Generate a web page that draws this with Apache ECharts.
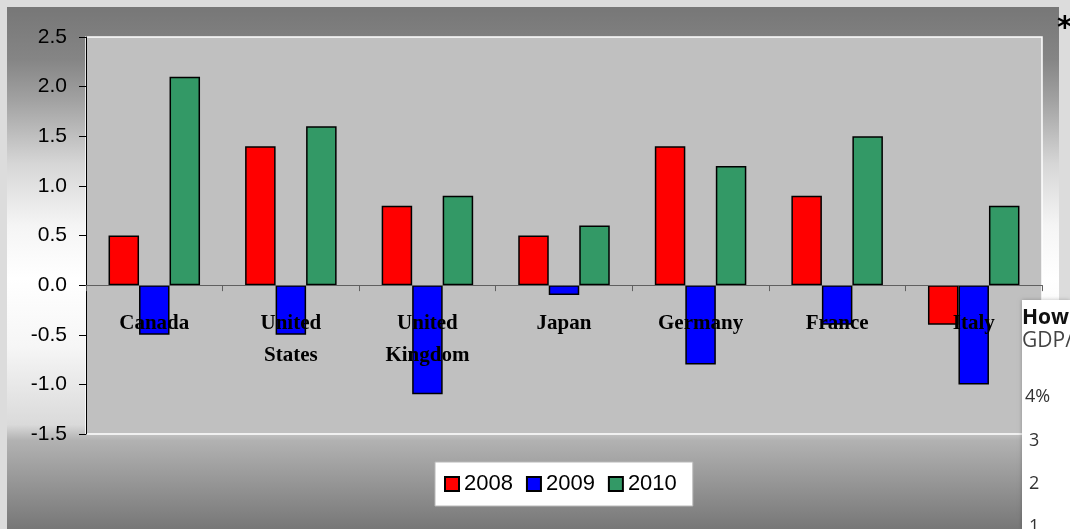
<!DOCTYPE html>
<html>
<head>
<meta charset="utf-8">
<script src="https://cdn.jsdelivr.net/npm/echarts@6/dist/echarts.min.js"></script>
<style>
  html, body { margin: 0; padding: 0; background: #dcdcdc; }
  #main { width: 1070px; height: 529px; }
</style>
</head>
<body>
<div id="main"></div>
<script>
// data
var countries = ['Canada', 'United\nStates', 'United\nKingdom', 'Japan', 'Germany', 'France', 'Italy']
var years = ['2008', '2009', '2010']
var v2008 = [0.5, 1.4, 0.8, 0.5, 1.4, 0.9, -0.4]
var v2009 = [-0.5, -0.5, -1.1, -0.1, -0.8, -0.4, -1.0]
var v2010 = [2.1, 1.6, 0.9, 0.6, 1.2, 1.5, 0.8]
var yMin = -1.5
var yMax = 2.5
var yStep = 0.5

var colors = ['#ff0000', '#0000ff', '#339966']

var myChart = echarts.init(document.getElementById('main'))

function bar(name, data) {
  return {
    name: name,
    type: 'bar',
    data: data,
    barGap: '0%',
    barCategoryGap: '33%',
    itemStyle: { borderColor: '#000', borderWidth: 1.5 }
  }
}

var option = {
  backgroundColor: '#dcdcdc',
  color: colors,
  animation: false,
  graphic: [
    // gradient frame behind the chart
    {
      type: 'rect',
      z: -100,
      shape: { x: 7, y: 7, width: 1052, height: 522 },
      style: {
        fill: {
          type: 'linear', x: 0, y: 0, x2: 0, y2: 1,
          colorStops: [
            { offset: 0, color: '#777777' },
            { offset: 0.1, color: '#858585' },
            { offset: 0.18, color: '#a2a2a2' },
            { offset: 0.3, color: '#d6d6d6' },
            { offset: 0.42, color: '#f5f5f5' },
            { offset: 0.52, color: '#ffffff' },
            { offset: 0.65, color: '#f6f6f6' },
            { offset: 0.8, color: '#dadada' },
            { offset: 0.83, color: '#b2b2b2' },
            { offset: 1, color: '#777777' }
          ]
        }
      }
    },
    {
      type: 'text', z: 100, left: 1057, top: 14,
      style: { text: '*', fontSize: 30, fontWeight: 'bold', fill: '#000', fontFamily: 'DejaVu Sans' }
    },
    // piece of another picture overlapping on the right
    {
      type: 'rect', z: 100,
      shape: { x: 1022, y: 300, width: 48, height: 229 },
      style: { fill: '#ffffff', shadowBlur: 4, shadowColor: 'rgba(0,0,0,0.25)' }
    },
    { type: 'text', z: 101, left: 1022, top: 308,
      style: { text: 'How', fontSize: 21, fontWeight: 'bold', fill: '#111', fontFamily: 'Open Sans' } },
    { type: 'text', z: 101, left: 1022, top: 331,
      style: { text: 'GDP/', fontSize: 21, fill: '#444', fontFamily: 'Open Sans' } },
    { type: 'text', z: 101, left: 1025, top: 388,
      style: { text: '4%', fontSize: 18, fill: '#333', fontFamily: 'Open Sans' } },
    { type: 'text', z: 101, left: 1029, top: 432,
      style: { text: '3', fontSize: 18, fill: '#333', fontFamily: 'Open Sans' } },
    { type: 'text', z: 101, left: 1029, top: 475,
      style: { text: '2', fontSize: 18, fill: '#333', fontFamily: 'Open Sans' } },
    { type: 'text', z: 101, left: 1029, top: 518,
      style: { text: '1', fontSize: 18, fill: '#333', fontFamily: 'Open Sans' } }
  ],
  legend: {
    data: years,
    left: 435,
    top: 462,
    backgroundColor: '#ffffff',
    borderColor: '#b8b8b8',
    borderWidth: 1,
    padding: [11, 16, 11, 9],
    itemWidth: 14,
    itemHeight: 14,
    itemGap: 13,
    icon: 'rect',
    textStyle: { fontSize: 22, color: '#000', fontFamily: 'Liberation Sans' }
  },
  grid: {
    left: 86,
    right: 28,
    top: 37,
    bottom: 95,
    show: true,
    backgroundColor: '#c0c0c0',
    borderColor: '#ffffff',
    borderWidth: 1.5
  },
  xAxis: {
    type: 'category',
    data: countries,
    z: 5,
    axisLine: { onZero: true, lineStyle: { color: '#606060', width: 1 } },
    axisTick: { show: true, length: 6, lineStyle: { color: '#606060' } },
    axisLabel: {
      // labels sit just under the zero line, not at the bottom of the plot
      margin: -126,
      interval: 0,
      fontFamily: 'Liberation Serif',
      fontWeight: 'bold',
      fontSize: 21,
      lineHeight: 32,
      color: '#000'
    },
    splitLine: { show: false }
  },
  yAxis: {
    type: 'value',
    min: yMin,
    max: yMax,
    interval: yStep,
    axisLine: { show: true, lineStyle: { color: '#000', width: 1 } },
    axisTick: { show: true, length: 7, lineStyle: { color: '#000' } },
    axisLabel: {
      margin: 19,
      fontSize: 21,
      color: '#000',
      fontFamily: 'Liberation Sans',
      formatter: function (v) { return v.toFixed(1) }
    },
    splitLine: { show: false }
  },
  series: [
    bar(years[0], v2008),
    bar(years[1], v2009),
    bar(years[2], v2010)
  ]
}

myChart.setOption(option)
</script>
</body>
</html>
